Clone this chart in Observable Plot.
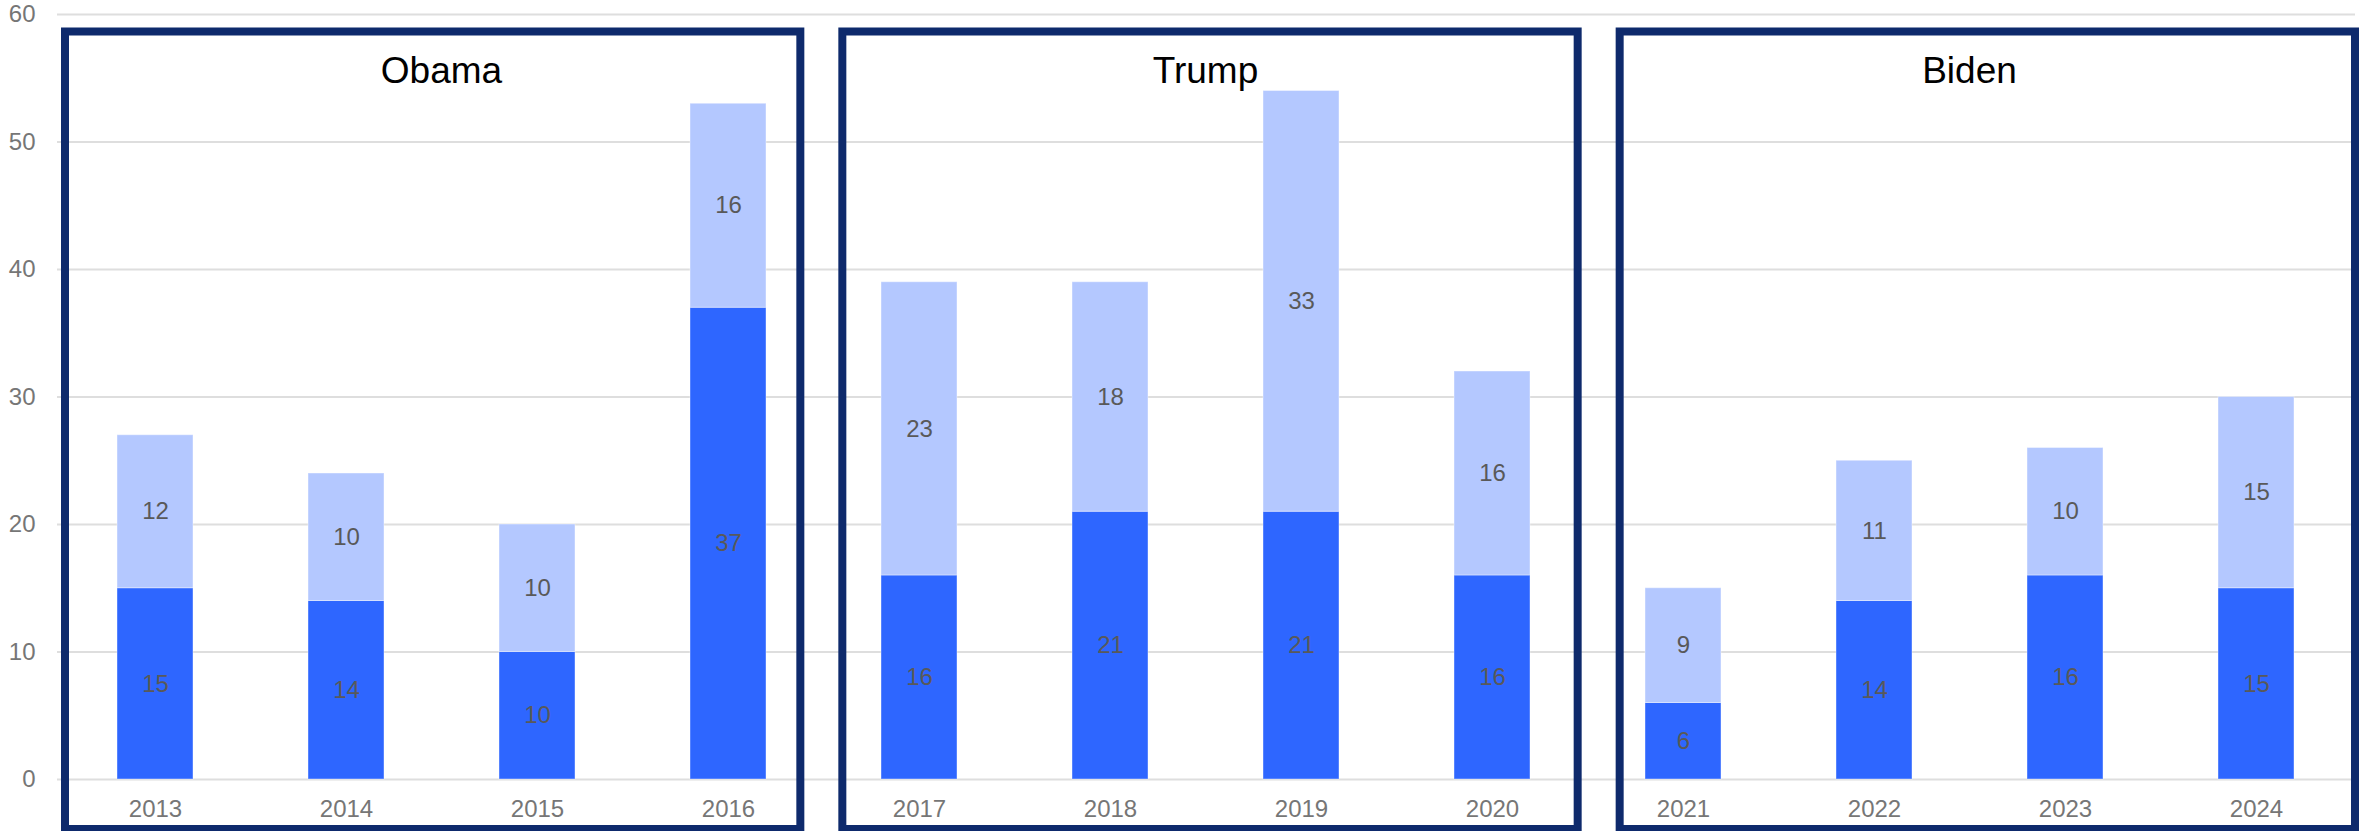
<!DOCTYPE html>
<html><head><meta charset="utf-8">
<script src="https://cdn.jsdelivr.net/npm/d3@7"></script>
<script src="https://cdn.jsdelivr.net/npm/@observablehq/plot@0.6"></script>
<style>
html,body{margin:0;padding:0;background:#fff;}
</style>
</head><body><div id="chart"></div>
<script>
// ---- data ----
const years = ["2013","2014","2015","2016","2017","2018","2019","2020","2021","2022","2023","2024"];
const seriesNames = ["Series 1","Series 2"];
const series1Values = [15,14,10,37,16,21,21,16,6,14,16,15];
const series2Values = [12,10,10,16,23,18,33,16,9,11,10,15];
const presidents = ["Obama","Trump","Biden"];
const presidentYears = [
  ["2013","2014","2015","2016"],
  ["2017","2018","2019","2020"],
  ["2021","2022","2023","2024"]
];
const yTicks = [0,10,20,30,40,50,60];

const data = [];
years.forEach((yr, i) => {
  data.push({year: yr, series: seriesNames[0], value: series1Values[i]});
  data.push({year: yr, series: seriesNames[1], value: series2Values[i]});
});

// ---- decoration: president boxes and titles ----
function presidencyBoxes(index, scales, values, dimensions) {
  const {width, height, marginLeft, marginRight, marginTop} = dimensions;
  const x = scales.x;
  const bw = typeof x.bandwidth === "function" ? x.bandwidth() : x.bandwidth;
  const g = d3.create("svg:g");
  const r0 = marginLeft, r1 = width - marginRight;
  const inset = 8, gap = 42, sw = 8;
  const n = presidents.length;
  const boxW = (r1 - r0 - inset - gap * (n - 1)) / n;
  const top = marginTop + 17.5, bottom = height - 2;
  presidents.forEach((name, i) => {
    const x0 = r0 + inset + i * (boxW + gap);
    g.append("rect")
      .attr("x", x0).attr("y", top)
      .attr("width", boxW).attr("height", bottom - top)
      .attr("fill", "none").attr("stroke", "#0e2a6c").attr("stroke-width", sw);
    const cx = d3.mean(presidentYears[i], yr => x(yr) + bw / 2);
    g.append("text")
      .attr("x", cx).attr("y", top + 51)
      .attr("text-anchor", "middle")
      .attr("fill", "#000")
      .attr("font-size", 37)
      .attr("font-family", "Liberation Sans, Arial, sans-serif")
      .text(name);
  });
  return g.node();
}

const chart = Plot.plot({
  width: 2361,
  height: 831,
  marginTop: 14,
  marginBottom: 52,
  marginLeft: 57,
  marginRight: 6,
  style: {fontFamily: "Liberation Sans, Arial, sans-serif", fontSize: "24px", background: "white", color: "#767676", overflow: "visible"},
  x: {domain: years, paddingInner: 0.6, paddingOuter: 0.3, label: null, tickSize: 0, tickPadding: 20},
  y: {domain: [0, 60], ticks: yTicks, label: null, tickSize: 0, tickPadding: 22},
  color: {domain: seriesNames, range: ["#2e66ff", "#b4c8ff"]},
  marks: [
    Plot.ruleY(yTicks, {stroke: "#dedede", strokeWidth: 2}),
    Plot.barY(data, Plot.stackY({x: "year", y: "value", fill: "series", z: "series", stroke: "#ffffff", strokeOpacity: 0.4, strokeWidth: 1})),
    Plot.text(data, Plot.stackY({x: "year", y: "value", z: "series", text: d => String(d.value), fill: "#595959", fontSize: 24})),
    presidencyBoxes
  ]
});
document.getElementById("chart").appendChild(chart);
</script>
</body></html>
